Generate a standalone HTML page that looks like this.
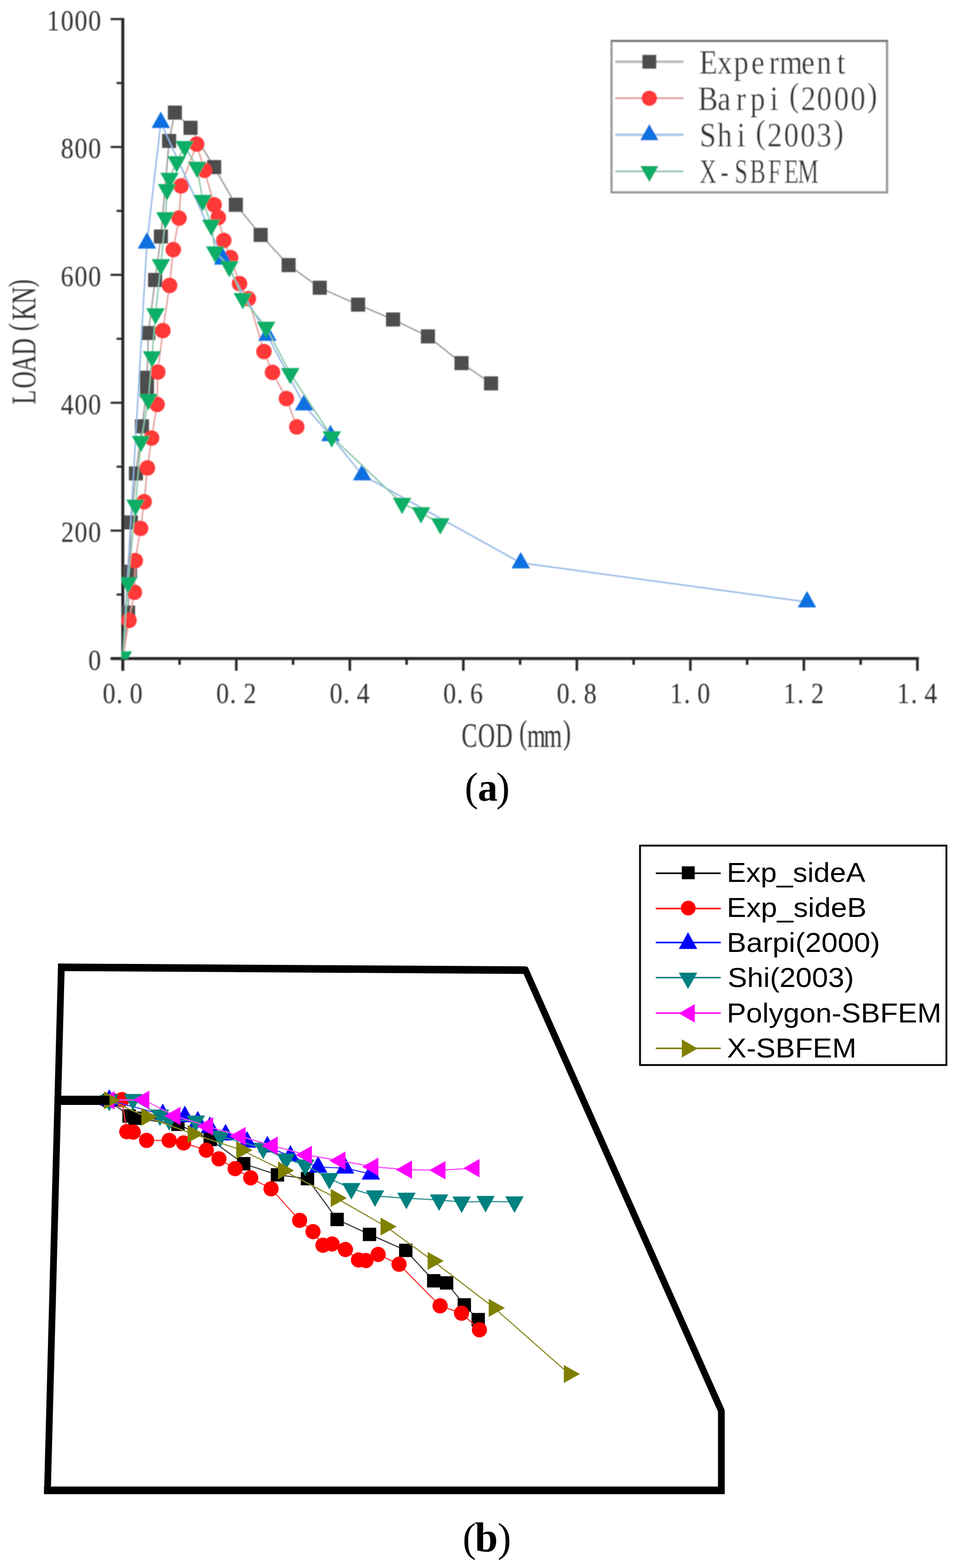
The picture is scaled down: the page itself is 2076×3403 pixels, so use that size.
<!DOCTYPE html>
<html lang="en"><head><meta charset="utf-8"><title>Load-COD curves and crack paths</title>
<style>
html,body{margin:0;padding:0;background:#fff;}
body{width:2076px;height:3403px;overflow:hidden;}
svg{display:block;}
.sim{font-family:"Liberation Serif","Noto Serif CJK SC",serif;fill:#303030;}
.ari{font-family:"Liberation Sans","Noto Sans CJK SC",sans-serif;fill:#000;}
.cap{font-family:"Liberation Serif","Noto Serif CJK SC",serif;fill:#000;}
</style></head><body>
<svg width="2076" height="3403" viewBox="0 0 2076 3403">
<rect x="0" y="0" width="2076" height="3403" fill="#ffffff"/>
<defs><clipPath id="ca"><rect x="263.2" y="0" width="1800" height="1430"/></clipPath>
<filter id="soft" x="0" y="0" width="2076" height="3403" filterUnits="userSpaceOnUse"><feGaussianBlur stdDeviation="0.9"/></filter>
<filter id="softb" x="0" y="0" width="2076" height="3403" filterUnits="userSpaceOnUse"><feGaussianBlur stdDeviation="0.45"/></filter>
</defs>
<g id="chart-a" filter="url(#soft)">
<g stroke="#282828" fill="none" stroke-linecap="butt">
<line x1="266.4" y1="39.2" x2="266.4" y2="1455.7" stroke-width="6.5"/>
<line x1="239.9" y1="1429.2" x2="1993.3" y2="1429.2" stroke-width="6.5"/>
<line x1="252.9" y1="1290.4" x2="266.4" y2="1290.4" stroke-width="4.5"/>
<line x1="239.9" y1="1151.6" x2="266.4" y2="1151.6" stroke-width="4.5"/>
<line x1="252.9" y1="1012.9" x2="266.4" y2="1012.9" stroke-width="4.5"/>
<line x1="239.9" y1="874.1" x2="266.4" y2="874.1" stroke-width="4.5"/>
<line x1="252.9" y1="735.3" x2="266.4" y2="735.3" stroke-width="4.5"/>
<line x1="239.9" y1="596.5" x2="266.4" y2="596.5" stroke-width="4.5"/>
<line x1="252.9" y1="457.7" x2="266.4" y2="457.7" stroke-width="4.5"/>
<line x1="239.9" y1="319" x2="266.4" y2="319" stroke-width="4.5"/>
<line x1="252.9" y1="180.2" x2="266.4" y2="180.2" stroke-width="4.5"/>
<line x1="239.9" y1="41.4" x2="266.4" y2="41.4" stroke-width="4.5"/>
<line x1="389.5" y1="1429.2" x2="389.5" y2="1442.7" stroke-width="5.5"/>
<line x1="512.6" y1="1429.2" x2="512.6" y2="1455.7" stroke-width="5.5"/>
<line x1="635.8" y1="1429.2" x2="635.8" y2="1442.7" stroke-width="5.5"/>
<line x1="758.9" y1="1429.2" x2="758.9" y2="1455.7" stroke-width="5.5"/>
<line x1="882" y1="1429.2" x2="882" y2="1442.7" stroke-width="5.5"/>
<line x1="1005.1" y1="1429.2" x2="1005.1" y2="1455.7" stroke-width="5.5"/>
<line x1="1128.2" y1="1429.2" x2="1128.2" y2="1442.7" stroke-width="5.5"/>
<line x1="1251.4" y1="1429.2" x2="1251.4" y2="1455.7" stroke-width="5.5"/>
<line x1="1374.5" y1="1429.2" x2="1374.5" y2="1442.7" stroke-width="5.5"/>
<line x1="1497.6" y1="1429.2" x2="1497.6" y2="1455.7" stroke-width="5.5"/>
<line x1="1620.7" y1="1429.2" x2="1620.7" y2="1442.7" stroke-width="5.5"/>
<line x1="1743.8" y1="1429.2" x2="1743.8" y2="1455.7" stroke-width="5.5"/>
<line x1="1867" y1="1429.2" x2="1867" y2="1442.7" stroke-width="5.5"/>
<line x1="1990.1" y1="1429.2" x2="1990.1" y2="1455.7" stroke-width="5.5"/>
</g>
<g clip-path="url(#ca)">
<polyline points="266.4,1429.2 277.9,1329.5 281.9,1240.7 283.9,1133.8 294.9,1027.5 307.8,925.1 318.8,847.9 318.8,819.9 321.9,722.8 336.5,607.6 349,513.3 366.8,305.8 379.3,244.3 413.3,277.4 464.6,362.7 511.6,444.5 565.5,509.8 626,575.4 693.6,624.5 776.7,661.1 852.6,693.4 928.4,730 1001.1,788 1065.3,832" fill="none" stroke="#9a9a9a" stroke-width="3" stroke-linejoin="round"/>
<rect x="262.6" y="1314.2" width="30.5" height="30.5" fill="#4d4d4d"/>
<rect x="266.6" y="1225.5" width="30.5" height="30.5" fill="#4d4d4d"/>
<rect x="268.6" y="1118.5" width="30.5" height="30.5" fill="#4d4d4d"/>
<rect x="279.6" y="1012.2" width="30.5" height="30.5" fill="#4d4d4d"/>
<rect x="292.6" y="909.9" width="30.5" height="30.5" fill="#4d4d4d"/>
<rect x="303.6" y="832.6" width="30.5" height="30.5" fill="#4d4d4d"/>
<rect x="303.6" y="804.6" width="30.5" height="30.5" fill="#4d4d4d"/>
<rect x="306.6" y="707.5" width="30.5" height="30.5" fill="#4d4d4d"/>
<rect x="321.2" y="592.4" width="30.5" height="30.5" fill="#4d4d4d"/>
<rect x="333.8" y="498" width="30.5" height="30.5" fill="#4d4d4d"/>
<rect x="351.6" y="290.6" width="30.5" height="30.5" fill="#4d4d4d"/>
<rect x="364.1" y="229.1" width="30.5" height="30.5" fill="#4d4d4d"/>
<rect x="398.1" y="262.1" width="30.5" height="30.5" fill="#4d4d4d"/>
<rect x="449.4" y="347.4" width="30.5" height="30.5" fill="#4d4d4d"/>
<rect x="496.4" y="429.2" width="30.5" height="30.5" fill="#4d4d4d"/>
<rect x="550.2" y="494.6" width="30.5" height="30.5" fill="#4d4d4d"/>
<rect x="610.8" y="560.1" width="30.5" height="30.5" fill="#4d4d4d"/>
<rect x="678.4" y="609.2" width="30.5" height="30.5" fill="#4d4d4d"/>
<rect x="761.5" y="645.9" width="30.5" height="30.5" fill="#4d4d4d"/>
<rect x="837.4" y="678.1" width="30.5" height="30.5" fill="#4d4d4d"/>
<rect x="913.1" y="714.8" width="30.5" height="30.5" fill="#4d4d4d"/>
<rect x="985.9" y="772.8" width="30.5" height="30.5" fill="#4d4d4d"/>
<rect x="1050" y="816.8" width="30.5" height="30.5" fill="#4d4d4d"/>
<polyline points="266.4,1429.2 279.9,1346.4 291.5,1285.5 293.5,1216.7 304.9,1146.8 312.8,1088.9 319.8,1015.5 328.8,950.7 340.8,877.8 342.3,807.5 353.3,717.5 367.9,619.5 375.9,541.8 388.3,473.4 392.7,403.6 426.6,312.8 443.6,369.7 464.6,444.5 473.6,472 485.5,521.9 500.2,559.1 519.6,615.5 538.8,648.3 572.6,763 591.1,808.2 621.3,865 643.8,926.5" fill="none" stroke="#e59a9a" stroke-width="3" stroke-linejoin="round"/>
<circle cx="279.9" cy="1346.4" r="16.8" fill="#ff3838"/>
<circle cx="291.5" cy="1285.5" r="16.8" fill="#ff3838"/>
<circle cx="293.5" cy="1216.7" r="16.8" fill="#ff3838"/>
<circle cx="304.9" cy="1146.8" r="16.8" fill="#ff3838"/>
<circle cx="312.8" cy="1088.9" r="16.8" fill="#ff3838"/>
<circle cx="319.8" cy="1015.5" r="16.8" fill="#ff3838"/>
<circle cx="328.8" cy="950.7" r="16.8" fill="#ff3838"/>
<circle cx="340.8" cy="877.8" r="16.8" fill="#ff3838"/>
<circle cx="342.3" cy="807.5" r="16.8" fill="#ff3838"/>
<circle cx="353.3" cy="717.5" r="16.8" fill="#ff3838"/>
<circle cx="367.9" cy="619.5" r="16.8" fill="#ff3838"/>
<circle cx="375.9" cy="541.8" r="16.8" fill="#ff3838"/>
<circle cx="388.3" cy="473.4" r="16.8" fill="#ff3838"/>
<circle cx="392.7" cy="403.6" r="16.8" fill="#ff3838"/>
<circle cx="426.6" cy="312.8" r="16.8" fill="#ff3838"/>
<circle cx="443.6" cy="369.7" r="16.8" fill="#ff3838"/>
<circle cx="464.6" cy="444.5" r="16.8" fill="#ff3838"/>
<circle cx="473.6" cy="472" r="16.8" fill="#ff3838"/>
<circle cx="485.5" cy="521.9" r="16.8" fill="#ff3838"/>
<circle cx="500.2" cy="559.1" r="16.8" fill="#ff3838"/>
<circle cx="519.6" cy="615.5" r="16.8" fill="#ff3838"/>
<circle cx="538.8" cy="648.3" r="16.8" fill="#ff3838"/>
<circle cx="572.6" cy="763" r="16.8" fill="#ff3838"/>
<circle cx="591.1" cy="808.2" r="16.8" fill="#ff3838"/>
<circle cx="621.3" cy="865" r="16.8" fill="#ff3838"/>
<circle cx="643.8" cy="926.5" r="16.8" fill="#ff3838"/>
<polyline points="266.4,1429.2 318.7,527.8 348.8,265.9 484.2,562.4 580,727.9 659.7,878.9 716.9,945.6 785.5,1030.6 1129.6,1221.6 1750.6,1306.5" fill="none" stroke="#8fb4e6" stroke-width="3" stroke-linejoin="round"/>
<polygon points="298.7,539.6 338.7,539.6 318.7,504.1" fill="#0a6fe0"/>
<polygon points="328.8,277.8 368.8,277.8 348.8,242.2" fill="#0a6fe0"/>
<polygon points="464.2,574.2 504.2,574.2 484.2,538.8" fill="#0a6fe0"/>
<polygon points="560,739.8 600,739.8 580,704.2" fill="#0a6fe0"/>
<polygon points="639.7,890.8 679.7,890.8 659.7,855.2" fill="#0a6fe0"/>
<polygon points="696.9,957.5 736.9,957.5 716.9,922" fill="#0a6fe0"/>
<polygon points="765.5,1042.5 805.5,1042.5 785.5,1007" fill="#0a6fe0"/>
<polygon points="1109.6,1233.5 1149.6,1233.5 1129.6,1198" fill="#0a6fe0"/>
<polygon points="1730.6,1318.3 1770.6,1318.3 1750.6,1282.8" fill="#0a6fe0"/>
<polyline points="266.4,1425.3 277.9,1264.7 293.9,1096 305.8,957.7 321.8,866.9 329.8,774.1 337.3,681 349,574.5 358.8,472.3 362.2,411.3 367.8,386.7 383.3,350.8 400.7,317.9 427.6,362.8 439.6,435 458.3,488.3 466.9,546.6 497.5,578.5 526.8,647.7 577.2,710.1 629.6,810.6 719.7,947.8 872.2,1092.3 913.3,1112.6 955.2,1136.6" fill="none" stroke="#86c6a6" stroke-width="3" stroke-linejoin="round"/>
<polygon points="246.4,1413.5 286.4,1413.5 266.4,1449" fill="#0fae66"/>
<polygon points="257.9,1252.8 297.9,1252.8 277.9,1288.3" fill="#0fae66"/>
<polygon points="273.9,1084.2 313.9,1084.2 293.9,1119.7" fill="#0fae66"/>
<polygon points="285.8,945.9 325.8,945.9 305.8,981.4" fill="#0fae66"/>
<polygon points="301.8,855 341.8,855 321.8,890.5" fill="#0fae66"/>
<polygon points="309.8,762.2 349.8,762.2 329.8,797.8" fill="#0fae66"/>
<polygon points="317.3,669.1 357.3,669.1 337.3,704.6" fill="#0fae66"/>
<polygon points="329,562.6 369,562.6 349,598.1" fill="#0fae66"/>
<polygon points="338.8,460.4 378.8,460.4 358.8,495.9" fill="#0fae66"/>
<polygon points="342.2,399.4 382.2,399.4 362.2,434.9" fill="#0fae66"/>
<polygon points="347.8,374.9 387.8,374.9 367.8,410.4" fill="#0fae66"/>
<polygon points="363.3,338.9 403.3,338.9 383.3,374.4" fill="#0fae66"/>
<polygon points="380.7,306.1 420.7,306.1 400.7,341.6" fill="#0fae66"/>
<polygon points="407.6,350.9 447.6,350.9 427.6,386.4" fill="#0fae66"/>
<polygon points="419.6,423.1 459.6,423.1 439.6,458.6" fill="#0fae66"/>
<polygon points="438.3,476.4 478.3,476.4 458.3,511.9" fill="#0fae66"/>
<polygon points="446.9,534.8 486.9,534.8 466.9,570.2" fill="#0fae66"/>
<polygon points="477.5,566.6 517.5,566.6 497.5,602.1" fill="#0fae66"/>
<polygon points="506.8,635.9 546.8,635.9 526.8,671.4" fill="#0fae66"/>
<polygon points="557.2,698.2 597.2,698.2 577.2,733.8" fill="#0fae66"/>
<polygon points="609.6,798.8 649.6,798.8 629.6,834.2" fill="#0fae66"/>
<polygon points="699.7,936 739.7,936 719.7,971.5" fill="#0fae66"/>
<polygon points="852.2,1080.5 892.2,1080.5 872.2,1116" fill="#0fae66"/>
<polygon points="893.3,1100.8 933.3,1100.8 913.3,1136.2" fill="#0fae66"/>
<polygon points="935.2,1124.8 975.2,1124.8 955.2,1160.2" fill="#0fae66"/>
</g>
<rect x="1326.6" y="89.2" width="597.6" height="328.2" fill="#ffffff" stroke="#999999" stroke-width="5"/>
<line x1="1326" y1="88.4" x2="1926.8" y2="88.4" stroke="#6a6a6a" stroke-width="3.2"/>
<line x1="1334.5" y1="134" x2="1482.9" y2="134" stroke="#b9b9b9" stroke-width="5.5"/>
<rect x="1393.3" y="118.8" width="30.5" height="30.5" fill="#4d4d4d"/>
<line x1="1334.5" y1="213.2" x2="1482.9" y2="213.2" stroke="#dd9090" stroke-width="3.8"/>
<circle cx="1408.6" cy="213.2" r="16.8" fill="#ff3838"/>
<line x1="1334.5" y1="292.6" x2="1482.9" y2="292.6" stroke="#a9c6ea" stroke-width="5.5"/>
<polygon points="1388.6,304.4 1428.6,304.4 1408.6,268.9" fill="#0a6fe0"/>
<line x1="1334.5" y1="371.9" x2="1482.9" y2="371.9" stroke="#8fc3a8" stroke-width="3.8"/>
<polygon points="1388.6,360.1 1428.6,360.1 1408.6,395.6" fill="#0fae66"/>
<text class="sim" font-size="63" x="104" y="0" transform="translate(100.0 1453.6) scale(0.88 1)">0</text>
<text class="sim" font-size="63" x="37 70.3 104" y="0" transform="translate(100.0 1176.0) scale(0.88 1)">200</text>
<text class="sim" font-size="63" x="36.5 70.3 104" y="0" transform="translate(100.0 898.5) scale(0.88 1)">400</text>
<text class="sim" font-size="63" x="36 70.3 104" y="0" transform="translate(100.0 620.9) scale(0.88 1)">600</text>
<text class="sim" font-size="63" x="36.5 70.3 104" y="0" transform="translate(100.0 343.4) scale(0.88 1)">800</text>
<text class="sim" font-size="63" x="1.8 36.5 70.3 104" y="0" transform="translate(100.0 65.8) scale(0.88 1)">1000</text>
<text class="sim" font-size="63" x="18.7 52.1 85.4" y="0" transform="translate(206.4 1526.0) scale(0.88 1)">0.0</text>
<text class="sim" font-size="63" x="18.7 52.1 85.9" y="0" transform="translate(452.6 1526.0) scale(0.88 1)">0.2</text>
<text class="sim" font-size="63" x="18.7 52.1 85.4" y="0" transform="translate(698.9 1526.0) scale(0.88 1)">0.4</text>
<text class="sim" font-size="63" x="18.7 52.1 84.9" y="0" transform="translate(945.1 1526.0) scale(0.88 1)">0.6</text>
<text class="sim" font-size="63" x="18.7 52.1 85.4" y="0" transform="translate(1191.4 1526.0) scale(0.88 1)">0.8</text>
<text class="sim" font-size="63" x="17.7 52.1 85.4" y="0" transform="translate(1437.6 1526.0) scale(0.88 1)">1.0</text>
<text class="sim" font-size="63" x="17.7 52.1 85.9" y="0" transform="translate(1683.8 1526.0) scale(0.88 1)">1.2</text>
<text class="sim" font-size="63" x="17.7 52.1 85.4" y="0" transform="translate(1930.1 1526.0) scale(0.88 1)">1.4</text>
<text class="sim" font-size="75" x="2 54.5 110.3 185.9 211.1 263.9 325.9" y="0" dy="0 0 0 -7.5 7.5 0 -7.5" transform="translate(1000.0 1621.0) scale(0.68 1)">COD(mm)</text>
<text class="sim" font-size="75" x="3.8 54.7 106.1 160.5 237.6 271.9 323.8 377.5" y="0" dy="0 0 0 0 -7.5 7.5 0 -7.5" transform="translate(76.6 880) rotate(-90) scale(0.68 1)">LOAD(KN)</text>
<text class="sim" font-size="75" x="19.9 65.1 106.6 151 195.7 221.9 277.4 315.7 367.1" y="0" transform="translate(1500.0 160.1) scale(0.86 1)">Experment</text>
<text class="sim" font-size="75" x="16.6 65.6 112.5 148.2 198.1 246.6 276.3 316.3 359.5 401.1 443.5" y="0" dy="0 0 0 0 0 -7.5 7.5 0 0 0 -7.5" transform="translate(1500.0 238.5) scale(0.86 1)">Barpi(2000)</text>
<text class="sim" font-size="75" x="20.5 65.1 114.9 161.8 191.4 233.1 274.7 315.7 358.7" y="0" dy="0 0 0 -7.5 7.5 0 0 0 -7.5" transform="translate(1500.0 318.2) scale(0.86 1)">Shi(2003)</text>
<text class="sim" font-size="75" x="25.9 92.9 137.5 186.4 244.6 296 339" y="0" transform="translate(1500.0 396.5) scale(0.68 1)">X-SBFEM</text>
</g>
<text class="cap" font-size="88" y="1737.8" x="1008 1036.5 1076.5">(<tspan font-weight="bold" font-size="86">a</tspan>)</text>
<g id="chart-b" filter="url(#softb)">
<path d="M133,2099.3 L1140,2105.5 L1564.8,3062 L1564.8,3234.5 L103,3234.5 Z" fill="none" stroke="#000" stroke-width="14.6" stroke-linejoin="miter"/><path d="M126,2099.3 L1141,2105.5 M95.5,3234.5 L1572,3234.5" fill="none" stroke="#000" stroke-width="16.4"/>
<polyline points="237,2388 280,2422 293,2427 386,2440 456,2473 528.7,2525.6 601.9,2549.8 667,2558 731.3,2646.6 801.6,2679 880.2,2713.7 940.9,2779.7 968.8,2784.2 1007.2,2832 1037.3,2864" fill="none" stroke="#3c3c3c" stroke-width="2.5" stroke-linejoin="round"/>
<rect x="222.5" y="2373.5" width="29" height="29" fill="#000000"/>
<rect x="265.5" y="2407.5" width="29" height="29" fill="#000000"/>
<rect x="278.5" y="2412.5" width="29" height="29" fill="#000000"/>
<rect x="371.5" y="2425.5" width="29" height="29" fill="#000000"/>
<rect x="441.5" y="2458.5" width="29" height="29" fill="#000000"/>
<rect x="514.2" y="2511.1" width="29" height="29" fill="#000000"/>
<rect x="587.4" y="2535.3" width="29" height="29" fill="#000000"/>
<rect x="652.5" y="2543.5" width="29" height="29" fill="#000000"/>
<rect x="716.8" y="2632.1" width="29" height="29" fill="#000000"/>
<rect x="787.1" y="2664.5" width="29" height="29" fill="#000000"/>
<rect x="865.7" y="2699.2" width="29" height="29" fill="#000000"/>
<rect x="926.4" y="2765.2" width="29" height="29" fill="#000000"/>
<rect x="954.3" y="2769.7" width="29" height="29" fill="#000000"/>
<rect x="992.7" y="2817.5" width="29" height="29" fill="#000000"/>
<rect x="1022.8" y="2849.5" width="29" height="29" fill="#000000"/>
<polyline points="264.5,2386.5 275,2456 289,2457 318,2475 367,2475 398.3,2480.5 447.5,2496.3 474.9,2515 510,2536.3 543.8,2556.2 588,2580 650,2648.5 679,2673 700.6,2702.5 720.5,2699.8 749.3,2711.8 777.7,2734.4 793.7,2735.8 820.3,2722.5 865.6,2743.8 954.7,2834 1001.2,2850 1040,2886" fill="none" stroke="#ff3434" stroke-width="2.5" stroke-linejoin="round"/>
<circle cx="264.5" cy="2386.5" r="16.5" fill="#ff0000"/>
<circle cx="275" cy="2456" r="16.5" fill="#ff0000"/>
<circle cx="289" cy="2457" r="16.5" fill="#ff0000"/>
<circle cx="318" cy="2475" r="16.5" fill="#ff0000"/>
<circle cx="367" cy="2475" r="16.5" fill="#ff0000"/>
<circle cx="398.3" cy="2480.5" r="16.5" fill="#ff0000"/>
<circle cx="447.5" cy="2496.3" r="16.5" fill="#ff0000"/>
<circle cx="474.9" cy="2515" r="16.5" fill="#ff0000"/>
<circle cx="510" cy="2536.3" r="16.5" fill="#ff0000"/>
<circle cx="543.8" cy="2556.2" r="16.5" fill="#ff0000"/>
<circle cx="588" cy="2580" r="16.5" fill="#ff0000"/>
<circle cx="650" cy="2648.5" r="16.5" fill="#ff0000"/>
<circle cx="679" cy="2673" r="16.5" fill="#ff0000"/>
<circle cx="700.6" cy="2702.5" r="16.5" fill="#ff0000"/>
<circle cx="720.5" cy="2699.8" r="16.5" fill="#ff0000"/>
<circle cx="749.3" cy="2711.8" r="16.5" fill="#ff0000"/>
<circle cx="777.7" cy="2734.4" r="16.5" fill="#ff0000"/>
<circle cx="793.7" cy="2735.8" r="16.5" fill="#ff0000"/>
<circle cx="820.3" cy="2722.5" r="16.5" fill="#ff0000"/>
<circle cx="865.6" cy="2743.8" r="16.5" fill="#ff0000"/>
<circle cx="954.7" cy="2834" r="16.5" fill="#ff0000"/>
<circle cx="1001.2" cy="2850" r="16.5" fill="#ff0000"/>
<circle cx="1040" cy="2886" r="16.5" fill="#ff0000"/>
<polyline points="237,2388 353,2419 401,2423.5 429,2435 455.3,2447 489.3,2463 536,2478.8 580,2489 630,2509 690,2533 748.6,2535 804.5,2548" fill="none" stroke="#3c3cff" stroke-width="2.5" stroke-linejoin="round"/>
<polygon points="217,2400 257,2400 237,2364" fill="#0000ff"/>
<polygon points="333,2431 373,2431 353,2395" fill="#0000ff"/>
<polygon points="381,2435.5 421,2435.5 401,2399.5" fill="#0000ff"/>
<polygon points="409,2447 449,2447 429,2411" fill="#0000ff"/>
<polygon points="435.3,2459 475.3,2459 455.3,2423" fill="#0000ff"/>
<polygon points="469.3,2475 509.3,2475 489.3,2439" fill="#0000ff"/>
<polygon points="516,2490.8 556,2490.8 536,2454.8" fill="#0000ff"/>
<polygon points="560,2501 600,2501 580,2465" fill="#0000ff"/>
<polygon points="610,2521 650,2521 630,2485" fill="#0000ff"/>
<polygon points="670,2545 710,2545 690,2509" fill="#0000ff"/>
<polygon points="728.6,2547 768.6,2547 748.6,2511" fill="#0000ff"/>
<polygon points="784.5,2560 824.5,2560 804.5,2524" fill="#0000ff"/>
<polyline points="237,2388 288.5,2386.3 347,2420 367,2430 424.8,2432.9 478,2466 571,2491.7 620.4,2515.5 662,2528.5 714.5,2557.7 762.1,2579.5 813.5,2595.5 881.6,2600.5 952.5,2604.2 1001.4,2608.8 1053.3,2607.4 1116.1,2608.5" fill="none" stroke="#2e9090" stroke-width="2.5" stroke-linejoin="round"/>
<polygon points="217,2376 257,2376 237,2412" fill="#008080"/>
<polygon points="268.5,2374.3 308.5,2374.3 288.5,2410.3" fill="#008080"/>
<polygon points="327,2408 367,2408 347,2444" fill="#008080"/>
<polygon points="347,2418 387,2418 367,2454" fill="#008080"/>
<polygon points="404.8,2420.9 444.8,2420.9 424.8,2456.9" fill="#008080"/>
<polygon points="458,2454 498,2454 478,2490" fill="#008080"/>
<polygon points="551,2479.7 591,2479.7 571,2515.7" fill="#008080"/>
<polygon points="600.4,2503.5 640.4,2503.5 620.4,2539.5" fill="#008080"/>
<polygon points="642,2516.5 682,2516.5 662,2552.5" fill="#008080"/>
<polygon points="694.5,2545.7 734.5,2545.7 714.5,2581.7" fill="#008080"/>
<polygon points="742.1,2567.5 782.1,2567.5 762.1,2603.5" fill="#008080"/>
<polygon points="793.5,2583.5 833.5,2583.5 813.5,2619.5" fill="#008080"/>
<polygon points="861.6,2588.5 901.6,2588.5 881.6,2624.5" fill="#008080"/>
<polygon points="932.5,2592.2 972.5,2592.2 952.5,2628.2" fill="#008080"/>
<polygon points="981.4,2596.8 1021.4,2596.8 1001.4,2632.8" fill="#008080"/>
<polygon points="1033.3,2595.4 1073.3,2595.4 1053.3,2631.4" fill="#008080"/>
<polygon points="1096.1,2596.5 1136.1,2596.5 1116.1,2632.5" fill="#008080"/>
<polyline points="236.8,2388 312.1,2387 379.8,2422 450.6,2444.4 521.2,2465.7 590.8,2486.5 664.9,2506.5 737.8,2519 809.2,2532.3 882.1,2538.6 954.7,2539.7 1028.5,2535.2" fill="none" stroke="#ff48ff" stroke-width="2.5" stroke-linejoin="round"/>
<polygon points="248.5,2368 248.5,2408 213.5,2388" fill="#ff00ff"/>
<polygon points="323.8,2367 323.8,2407 288.8,2387" fill="#ff00ff"/>
<polygon points="391.5,2402 391.5,2442 356.5,2422" fill="#ff00ff"/>
<polygon points="462.3,2424.4 462.3,2464.4 427.3,2444.4" fill="#ff00ff"/>
<polygon points="532.9,2445.7 532.9,2485.7 497.9,2465.7" fill="#ff00ff"/>
<polygon points="602.5,2466.5 602.5,2506.5 567.5,2486.5" fill="#ff00ff"/>
<polygon points="676.6,2486.5 676.6,2526.5 641.6,2506.5" fill="#ff00ff"/>
<polygon points="749.5,2499 749.5,2539 714.5,2519" fill="#ff00ff"/>
<polygon points="820.9,2512.3 820.9,2552.3 785.9,2532.3" fill="#ff00ff"/>
<polygon points="893.8,2518.6 893.8,2558.6 858.8,2538.6" fill="#ff00ff"/>
<polygon points="966.4,2519.7 966.4,2559.7 931.4,2539.7" fill="#ff00ff"/>
<polygon points="1040.2,2515.2 1040.2,2555.2 1005.2,2535.2" fill="#ff00ff"/>
<polyline points="237.2,2388 318.2,2424 418.7,2461 524.2,2496 614.7,2540.3 729.2,2600.1 837.2,2662 939.3,2736.6 1071.9,2838.4 1234.8,2982.1" fill="none" stroke="#8c8c26" stroke-width="2.5" stroke-linejoin="round"/>
<polygon points="225.5,2368.5 225.5,2407.5 260.5,2388" fill="#808000"/>
<polygon points="306.5,2404.5 306.5,2443.5 341.5,2424" fill="#808000"/>
<polygon points="407,2441.5 407,2480.5 442,2461" fill="#808000"/>
<polygon points="512.5,2476.5 512.5,2515.5 547.5,2496" fill="#808000"/>
<polygon points="603,2520.8 603,2559.8 638,2540.3" fill="#808000"/>
<polygon points="717.5,2580.6 717.5,2619.6 752.5,2600.1" fill="#808000"/>
<polygon points="825.5,2642.5 825.5,2681.5 860.5,2662" fill="#808000"/>
<polygon points="927.6,2717.1 927.6,2756.1 962.6,2736.6" fill="#808000"/>
<polygon points="1060.2,2818.9 1060.2,2857.9 1095.2,2838.4" fill="#808000"/>
<polygon points="1223.1,2962.6 1223.1,3001.6 1258.1,2982.1" fill="#808000"/>
<line x1="124" y1="2388" x2="237.5" y2="2388" stroke="#000" stroke-width="20"/>
<rect x="1388.4" y="1835.2" width="664.6" height="476.2" fill="#ffffff" stroke="#000" stroke-width="4"/>
<line x1="1422.6" y1="1895.2" x2="1563.5" y2="1895.2" stroke="#000000" stroke-width="3.4"/>
<rect x="1479" y="1880.2" width="28" height="28" fill="#000000"/>
<line x1="1422.6" y1="1971.7" x2="1563.5" y2="1971.7" stroke="#ff0000" stroke-width="3.4"/>
<circle cx="1493" cy="1970.7" r="16" fill="#ff0000"/>
<line x1="1422.6" y1="2045.5" x2="1563.5" y2="2045.5" stroke="#0000ff" stroke-width="3.4"/>
<polygon points="1472.5,2059.6 1512.5,2059.6 1492.5,2023" fill="#0000ff"/>
<line x1="1422.6" y1="2121.6" x2="1563.5" y2="2121.6" stroke="#008080" stroke-width="3.4"/>
<polygon points="1472.5,2111 1512.5,2111 1492.5,2146.5" fill="#008080"/>
<line x1="1422.6" y1="2198.6" x2="1563.5" y2="2198.6" stroke="#ff00ff" stroke-width="3.4"/>
<polygon points="1507.2,2179.3 1507.2,2219.3 1472.4,2199.3" fill="#ff00ff"/>
<line x1="1422.6" y1="2275.2" x2="1563.5" y2="2275.2" stroke="#808000" stroke-width="3.4"/>
<polygon points="1479,2255.8 1479,2295.3 1513.4,2275.6" fill="#808000"/>
<text class="ari" font-size="59.5" x="1576.6" y="1914" textLength="300.7" lengthAdjust="spacingAndGlyphs">Exp_sideA</text>
<text class="ari" font-size="59.5" x="1576.6" y="1990" textLength="303.2" lengthAdjust="spacingAndGlyphs">Exp_sideB</text>
<text class="ari" font-size="59.5" x="1576.6" y="2065.7" textLength="332.6" lengthAdjust="spacingAndGlyphs">Barpi(2000)</text>
<text class="ari" font-size="59.5" x="1578.6" y="2141.8" textLength="274" lengthAdjust="spacingAndGlyphs">Shi(2003)</text>
<text class="ari" font-size="59.5" x="1576.6" y="2219.3" textLength="465.6" lengthAdjust="spacingAndGlyphs">Polygon-SBFEM</text>
<text class="ari" font-size="59.5" x="1577" y="2295.4" textLength="280.8" lengthAdjust="spacingAndGlyphs">X-SBFEM</text>
</g>
<text class="cap" font-size="88" y="3367.4" x="1003.5 1030 1079.5">(<tspan font-weight="bold" font-size="90">b</tspan>)</text>
</svg>
</body></html>
